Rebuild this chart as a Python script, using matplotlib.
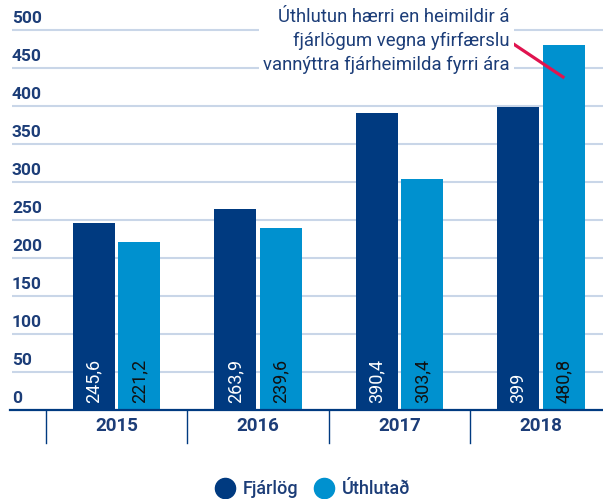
from matplotlib import pyplot as plt
from matplotlib.lines import Line2D
import numpy as np

plt.rcParams['font.family'] = ['Roboto', 'DejaVu Sans']

years = ["2015", "2016", "2017", "2018"]
fjarlog = [245.6, 263.9, 390.4, 399]
uthlutad = [221.2, 239.6, 303.4, 480.8]
yticks = [0, 50, 100, 150, 200, 250, 300, 350, 400, 450, 500]
note = ("Úthlutun hærri en heimildir á\n"
        "fjárlögum vegna yfirfærslu\n"
        "vannýttra fjárheimilda fyrri ára")

dark = "#003a80"
light = "#0091cf"
navy = "#1c3d78"
grid_c = "#c9d6e8"

W, H = 603, 499
fig = plt.figure(figsize=(W / 100, H / 100), dpi=100)
ax = fig.add_axes([12 / W, 1 - 410 / H, 1 - 12 / W, 410 / H])
ax.set_xlim(-0.7385, 3.438)
ax.set_ylim(0, 539.5)
ax.axis("off")

x = np.arange(len(years))
bw = 0.297
off = 0.16

# gridlines and tick labels sitting on top of them
for v in yticks[1:]:
    ax.axhline(v, color=grid_c, lw=1.5, zorder=0)
for v in yticks:
    ax.text(0, v + 5, str(v), transform=ax.get_yaxis_transform(),
            ha="left", va="bottom", fontsize=12.5, fontweight="bold",
            color=navy)

ax.bar(x - off, fjarlog, bw, color=dark, zorder=2)
ax.bar(x + off, uthlutad, bw, color=light, zorder=2)


def fmt(v):
    s = f"{v:g}"
    return s.replace(".", ",")


for i in range(len(years)):
    ax.text(x[i] - off, 9, fmt(fjarlog[i]), rotation=90, ha="center",
            va="bottom", fontsize=13, color="white", zorder=3)
    ax.text(x[i] + off, 9, fmt(uthlutad[i]), rotation=90, ha="center",
            va="bottom", fontsize=13, color="#111111", zorder=3)

# bottom axis line, separators and year labels
ax.axhline(0, xmin=-0.004, color=dark, lw=1.6, zorder=4, clip_on=False)
for b in np.arange(len(years)) - 0.5:
    ax.plot([b, b], [0, -43], color=dark, lw=1, clip_on=False)
for i, yr in enumerate(years):
    ax.text(x[i], -21, yr, ha="center", va="center", fontsize=13.5,
            fontweight="bold", color=navy)

# annotation
fig.text(510 / W, 1 - 8 / H, note, ha="right", va="top", fontsize=13.3,
         color=navy, linespacing=1.42,
         bbox=dict(facecolor="white", edgecolor="none", pad=3))
fig.add_artist(Line2D([512 / W, 563 / W], [1 - 43 / H, 1 - 77 / H],
                      color="#e0144f", lw=2.3))

handles = [Line2D([], [], ls="", marker="o", ms=14.5, color=dark),
           Line2D([], [], ls="", marker="o", ms=14.5, color=light)]
fig.legend(handles, ["Fjárlög", "Úthlutað"], loc="center",
           bbox_to_anchor=(312 / W, 1 - 489 / H), ncol=2, frameon=False,
           handletextpad=0.4, columnspacing=0.8,
           handlelength=1.2, labelcolor=navy,
           prop=dict(size=13, weight="medium"))

fig.savefig("out.png", dpi=100)
